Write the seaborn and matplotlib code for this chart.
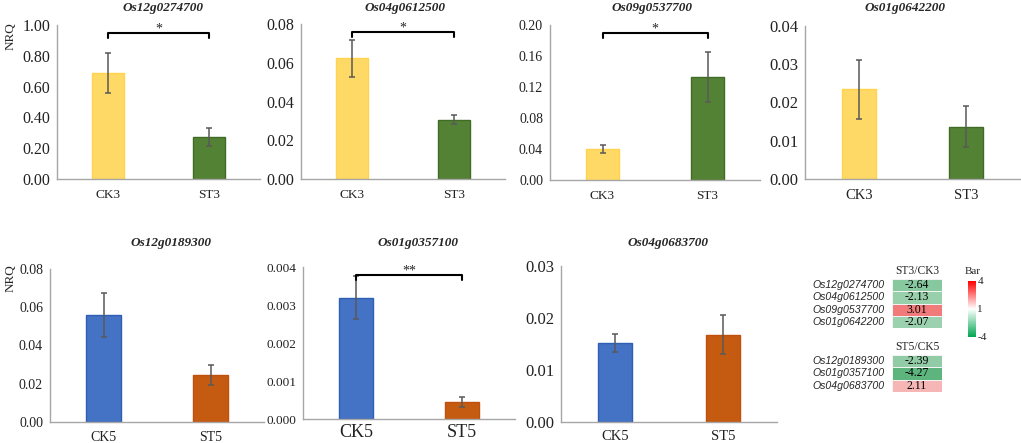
import numpy as np
import pandas as pd
import matplotlib
matplotlib.use("Agg")
import matplotlib.pyplot as plt
import seaborn as sns
from matplotlib.colors import LinearSegmentedColormap, TwoSlopeNorm
from matplotlib.cm import ScalarMappable
from matplotlib.ticker import MultipleLocator, FormatStrFormatter, FixedLocator

# Data
genes_top = ['Os12g0274700', 'Os04g0612500', 'Os09g0537700', 'Os01g0642200']
genes_bottom = ['Os12g0189300', 'Os01g0357100', 'Os04g0683700']
groups_top = ['CK3', 'ST3']
groups_bottom = ['CK5', 'ST5']

ck3_mean = [0.686, 0.0622, 0.040, 0.0234]
ck3_err = [0.130, 0.0094, 0.0056, 0.0078]
st3_mean = [0.275, 0.0305, 0.133, 0.0137]
st3_err = [0.058, 0.0023, 0.032, 0.0053]

ck5_mean = [0.0561, 0.00319, 0.0152]
ck5_err = [0.0114, 0.00057, 0.0017]
st5_mean = [0.0244, 0.000447, 0.0168]
st5_err = [0.0052, 0.00012, 0.0038]

sig_top = ['*', '*', '*', '']
sig_bottom = ['', '**', '']

ratio_st3 = [-2.64, -2.13, 3.01, -2.07]
ratio_st5 = [-2.39, -4.27, 2.11]

# Style
sns.set_style("white")
plt.rcParams['font.family'] = ['Liberation Serif', 'DejaVu Serif']
plt.rcParams['axes.unicode_minus'] = False

W, H = 1021, 443
fig = plt.figure(figsize=(W / 100, H / 100), dpi=100)

def px_axes(left, right, top, bottom):
    return fig.add_axes([left / W, 1 - bottom / H, (right - left) / W, (bottom - top) / H])

# panel layout: (left, right, top, bottom) px, ymax, step, decimals, tick size, label size, label pad, title x
panels_top = [
    ((57, 260, 25, 179), 1.0, 0.2, 2, 11.5, 9.5, 7.5, 163),
    ((301, 505, 24, 179), 0.08, 0.02, 2, 11.5, 9.5, 7.5, 405),
    ((550, 760, 25, 180), 0.20, 0.04, 2, 10, 9.5, 7.5, 652),
    ((805, 1020, 26, 179), 0.04, 0.01, 2, 12, 10.5, 7, 905),
]
panels_bottom = [
    ((50, 264, 269, 422), 0.08, 0.02, 2, 10, 10, 6.5, 171),
    ((303, 515, 267, 419), 0.004, 0.001, 3, 9.5, 13, 3.5, 418),
    ((561, 777, 266, 422), 0.03, 0.01, 2, 12, 10.5, 6, 668),
]

spine_col = '#A6A6A6'

def draw_panel(box, ymax, step, dec, tsize, lsize, lpad, tx, ty, gene, groups,
               means, errs, colors, edges, sig):
    ax = px_axes(*box)
    df = pd.DataFrame({'group': groups, 'NRQ': means})
    sns.barplot(data=df, x='group', y='NRQ', hue='group', palette=colors,
                saturation=1, width=0.32, errorbar=None, legend=False, ax=ax)
    for patch, ec in zip(ax.patches, edges):
        patch.set_edgecolor(ec)
        patch.set_linewidth(1.0)
    ax.errorbar([0, 1], means, yerr=errs, fmt='none', ecolor='#595959',
                elinewidth=1.1, capsize=2.5, capthick=1.1)
    ax.set_xlim(-0.5, 1.5)
    ax.set_ylim(0, ymax)
    ax.yaxis.set_major_locator(MultipleLocator(step))
    ax.yaxis.set_major_formatter(FormatStrFormatter('%.' + str(dec) + 'f'))
    ax.set_xlabel('')
    ax.set_ylabel('')
    sns.despine(ax=ax)
    for s in ['left', 'bottom']:
        ax.spines[s].set_color(spine_col)
        ax.spines[s].set_linewidth(1.0)
    ax.tick_params(axis='y', which='major', direction='out', length=3, width=1,
                   color=spine_col, labelsize=tsize, pad=2, labelcolor='#222222')
    ax.tick_params(axis='x', which='major', length=0, labelsize=lsize, pad=lpad,
                   labelcolor='#222222')
    ax.xaxis.set_minor_locator(FixedLocator([-0.5, 0.5, 1.5]))
    ax.tick_params(axis='x', which='minor', direction='in', length=3, width=1,
                   color=spine_col)
    fig.text(tx / W, 1 - ty / H, gene, ha='center', va='center', fontsize=9.5,
             fontweight='bold', fontstyle='italic')
    if sig:
        y_hi = ymax * 0.95
        y_lo = ymax * 0.915
        ax.plot([0, 0, 1, 1], [y_lo, y_hi, y_hi, y_lo], color='black', lw=1.5,
                clip_on=False)
        ax.text(0.5, ymax * 0.93, sig, ha='center', va='bottom', fontsize=10,
                clip_on=False)
    return ax

for i, gene in enumerate(genes_top):
    box, ymax, step, dec, tsize, lsize, lpad, tx = panels_top[i]
    draw_panel(box, ymax, step, dec, tsize, lsize, lpad, tx, 8, gene, groups_top,
               [ck3_mean[i], st3_mean[i]], [ck3_err[i], st3_err[i]],
               ['#FFD966', '#548235'], ['#FFD34D', '#3F6B25'], sig_top[i])

for i, gene in enumerate(genes_bottom):
    box, ymax, step, dec, tsize, lsize, lpad, tx = panels_bottom[i]
    draw_panel(box, ymax, step, dec, tsize, lsize, lpad, tx, 243, gene, groups_bottom,
               [ck5_mean[i], st5_mean[i]], [ck5_err[i], st5_err[i]],
               ['#4472C4', '#C55A11'], ['#2F5FB3', '#C0500C'], sig_bottom[i])

fig.text(11 / W, 1 - 36 / H, 'NRQ', rotation=90, ha='center', va='center', fontsize=9.5)
fig.text(11 / W, 1 - 278 / H, 'NRQ', rotation=90, ha='center', va='center', fontsize=9.5)

# Fold-change heatmaps
pale = LinearSegmentedColormap.from_list('pale', ['#5DB47C', '#FFFFFF', '#EA3A3A'])
bright = LinearSegmentedColormap.from_list('bright', ['#00A651', '#FFFFFF', '#FF0000'])
norm = TwoSlopeNorm(vmin=-4, vcenter=1, vmax=4)

def draw_heat(box, values, genes, header):
    ax = px_axes(*box)
    df = pd.DataFrame({header: values}, index=genes)
    sns.heatmap(df, annot=True, fmt='.2f', cmap=pale, norm=norm, cbar=False,
                xticklabels=True, yticklabels=True,
                linewidths=0.6, linecolor='#F2F2F2', ax=ax,
                annot_kws={'fontsize': 8.5, 'color': 'black'})
    ax.xaxis.tick_top()
    ax.tick_params(length=0, pad=1.5)
    plt.setp(ax.get_xticklabels(), fontsize=8.3, rotation=0)
    plt.setp(ax.get_yticklabels(), fontsize=7.6, rotation=0, fontstyle='italic',
             family=['Liberation Sans', 'DejaVu Sans'])
    ax.tick_params(axis='y', pad=5)
    return ax

draw_heat((892, 942, 279, 328), ratio_st3, genes_top, 'ST3/CK3')
draw_heat((892, 942, 355, 392), ratio_st5, genes_bottom, 'ST5/CK5')

cax = px_axes(968, 976, 281, 337)
cb = fig.colorbar(ScalarMappable(norm=norm, cmap=bright), cax=cax, ticks=[-4, 1, 4])
cb.outline.set_visible(False)
cax.tick_params(length=0, labelsize=8, pad=1)
fig.text(973 / W, 1 - 272 / H, 'Bar', ha='center', va='center', fontsize=8)

plt.savefig('out.png', dpi=100)
plt.close()
